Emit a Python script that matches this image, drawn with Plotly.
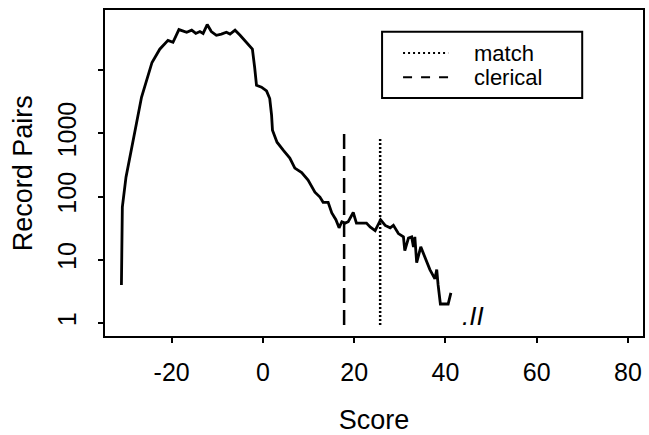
import plotly.graph_objects as go

# Score distribution
score = [-31.0, -30.8, -30.0, -28.8, -27.7, -26.6, -25.2, -24.3, -22.6, -21.1,
         -20.8, -19.7, -18.4, -16.7, -15.6, -14.7, -13.8, -13.1, -12.2, -11.3,
         -10.2, -9.1, -8.0, -7.2, -6.1, -5.0, -3.6, -2.3, -1.8, -1.4,
         -0.3, 0.8, 1.5, 1.9, 2.1, 3.1, 4.5, 5.9, 7.0, 8.5,
         9.9, 11.4, 12.5, 13.2, 14.3, 15.1, 16.0, 16.7, 17.3, 18.0,
         18.7, 19.8, 20.5, 21.6, 22.7, 23.5, 24.6, 25.8, 26.8, 27.9,
         28.6, 29.7, 30.8, 31.1, 31.9, 32.6, 33.0, 33.3, 33.7, 34.6,
         35.5, 36.6, 37.7, 38.1, 38.4, 38.9, 40.6, 41.2]
pairs = [4, 68, 203, 600, 1440, 3710, 7740, 13200, 21400, 27500,
         29500, 27500, 43700, 39600, 42700, 38000, 40700, 38000, 52500, 40700,
         35500, 37100, 39600, 37100, 42700, 35500, 27500, 21400, 11000, 5750,
         5370, 4680, 3550, 1950, 1120, 724, 537, 407, 282, 240,
         182, 117, 98, 81, 81, 55, 43, 32, 40, 38,
         40, 56, 38, 38, 38, 33, 29, 43, 35, 32,
         35, 26, 23, 14, 22, 23, 16, 23, 9, 16,
         11, 7, 5, 7, 4, 2, 2, 3]

# Cut-off lines
clerical_x = [17.8, 17.8]
clerical_y = [0.93, 1000]
match_x = [25.7, 25.7]
match_y = [0.93, 870]

x_ticks = [-20, 0, 20, 40, 60, 80]
x_ticktext = ["-20", "0", "20", "40", "60", "80"]
y_ticks = [1, 10, 100, 1000, 10000]
y_ticktext = ["1", "10", "100", "1000", ""]

FONT = "Liberation Sans, Arial, Helvetica, sans-serif"

fig = go.Figure()
fig.add_trace(go.Scatter(x=score, y=pairs, mode="lines", name="scores",
                         line=dict(color="black", width=2.8), showlegend=False))
fig.add_trace(go.Scatter(x=clerical_x, y=clerical_y, mode="lines", name="clerical",
                         line=dict(color="black", width=2.5, dash="15px,7px"),
                         showlegend=False))
fig.add_trace(go.Scatter(x=match_x, y=match_y, mode="lines", name="match",
                         line=dict(color="black", width=2.5, dash="2px,2px"),
                         showlegend=False))

# Legend box (drawn manually to match the original layout)
shapes = [
    dict(type="rect", xref="paper", yref="paper", x0=0.515, x1=0.887, y0=0.730, y1=0.933,
         line=dict(color="black", width=2)),
    dict(type="line", xref="paper", yref="paper", x0=0.554, x1=0.638, y0=0.868, y1=0.868,
         line=dict(color="black", width=2, dash="2px,3px")),
    dict(type="line", xref="paper", yref="paper", x0=0.554, x1=0.638, y0=0.794, y1=0.794,
         line=dict(color="black", width=2, dash="9px,9px")),
]
annotations = [
    dict(text="match", xref="paper", yref="paper", x=0.682, y=0.868, xanchor="left",
         yanchor="middle", showarrow=False, font=dict(size=22, color="black", family=FONT)),
    dict(text="clerical", xref="paper", yref="paper", x=0.682, y=0.794, xanchor="left",
         yanchor="middle", showarrow=False, font=dict(size=22, color="black", family=FONT)),
    dict(text="<i>.II</i>", x=46, y=0.11, xref="x", yref="y", showarrow=False,
         font=dict(size=26, color="black", family=FONT)),
    dict(text="Record Pairs", xref="paper", yref="paper", x=-0.152, y=0.5,
         xanchor="center", yanchor="middle", textangle=-90, showarrow=False,
         font=dict(size=27, color="black", family=FONT)),
]

fig.update_layout(
    width=649, height=435,
    margin=dict(l=105, r=6, t=10, b=99),
    paper_bgcolor="white", plot_bgcolor="white",
    font=dict(family=FONT, color="black"),
    shapes=shapes, annotations=annotations,
    showlegend=False,
)
fig.update_xaxes(
    range=[-34.6, 83.3], tickvals=x_ticks, ticktext=x_ticktext, ticks="outside",
    ticklen=5, tickwidth=1.5, automargin=False,
    tickcolor="black", showgrid=False, zeroline=False, showline=True, linecolor="black",
    linewidth=2, mirror=True, tickfont=dict(size=25), ticklabelstandoff=8,
    title=dict(text="Score", font=dict(size=27), standoff=28),
)
fig.update_yaxes(
    type="log", range=[-0.205, 4.95], tickvals=y_ticks, ticktext=y_ticktext,
    ticks="outside", ticklen=5, tickwidth=1.5, tickcolor="black", showgrid=False,
    zeroline=False, showline=True, linecolor="black", linewidth=2, mirror=True,
    tickangle=-90, tickfont=dict(size=25), ticklabelstandoff=12, automargin=False,
)

fig.write_html("out.html")
